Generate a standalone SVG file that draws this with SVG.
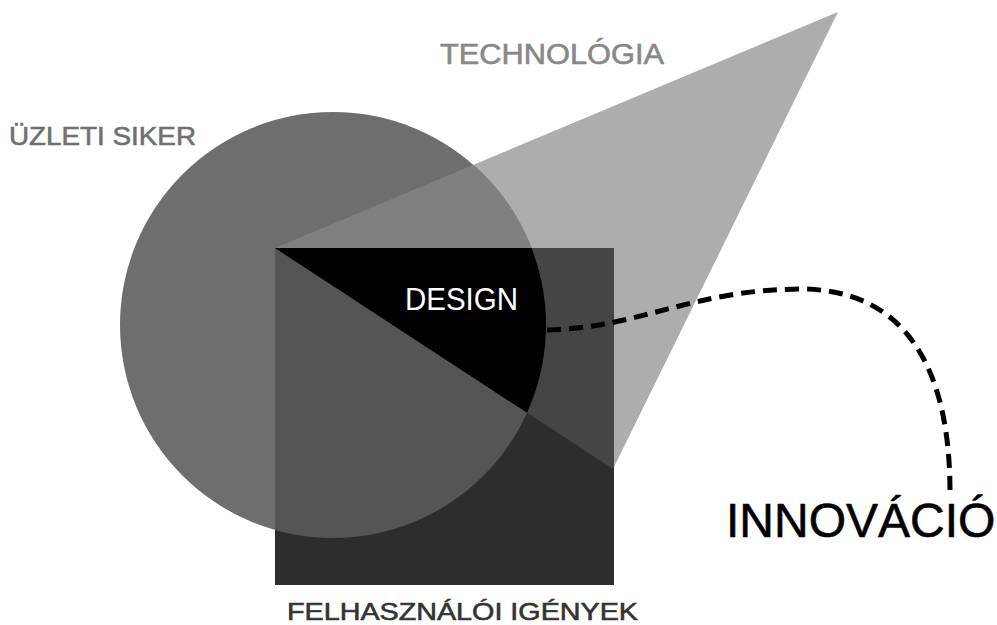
<svg xmlns="http://www.w3.org/2000/svg" width="997" height="625" viewBox="0 0 997 625">
  <style>
    .lbl { font-family: "Liberation Sans", Arial, sans-serif; stroke-width: 0.6; }
    .dash { fill: none; stroke: #000; stroke-width: 5; stroke-dasharray: 14 8; }
  </style>
  <defs>
    <clipPath id="cpTri"><polygon points="275,248 838,12 613,469"/></clipPath>
    <clipPath id="cpSq"><rect x="275" y="248" width="339" height="337"/></clipPath>
  </defs>
  <rect width="997" height="625" fill="#fff"/>

  <g id="node-technologia">
    <polygon points="275,248 838,12 613,469" fill="#adadad"/>
    <text class="lbl" x="440" y="64" font-size="29" fill="#888" stroke="#888" textLength="224" lengthAdjust="spacingAndGlyphs">TECHNOLÓGIA</text>
  </g>

  <g id="node-uzleti-siker">
    <circle cx="333" cy="325" r="213" fill="#6e6e6e"/>
    <circle cx="333" cy="325" r="213" fill="#808080" clip-path="url(#cpTri)"/>
    <text class="lbl" x="9" y="145" font-size="26" fill="#707070" stroke="#707070" textLength="187" lengthAdjust="spacingAndGlyphs">ÜZLETI SIKER</text>
  </g>

  <g id="node-felhasznaloi-igenyek">
    <rect x="275" y="248" width="339" height="337" fill="#2d2d2d"/>
    <g clip-path="url(#cpSq)">
      <circle cx="333" cy="325" r="213" fill="#555"/>
      <polygon points="275,248 838,12 613,469" fill="#454545"/>
    </g>
    <text class="lbl" x="287" y="619.5" font-size="24" fill="#333" stroke="#333" textLength="351" lengthAdjust="spacingAndGlyphs">FELHASZNÁLÓI IGÉNYEK</text>
  </g>

  <g id="node-design">
    <g clip-path="url(#cpSq)">
      <circle cx="333" cy="325" r="213" fill="#000" clip-path="url(#cpTri)"/>
    </g>
    <text class="lbl" x="405" y="310" font-size="31" fill="#fff" textLength="113" lengthAdjust="spacingAndGlyphs">DESIGN</text>
  </g>

  <g id="connectors">
    <path class="dash" d="M547,330 C640,328 690,290 800,289 C900,289 950,360 950,492"/>
  </g>

  <g id="node-innovacio">
    <text class="lbl" x="726" y="537" font-size="48" fill="#000" stroke="#000" stroke-width="1.2">INNOVÁCIÓ</text>
  </g>
</svg>
